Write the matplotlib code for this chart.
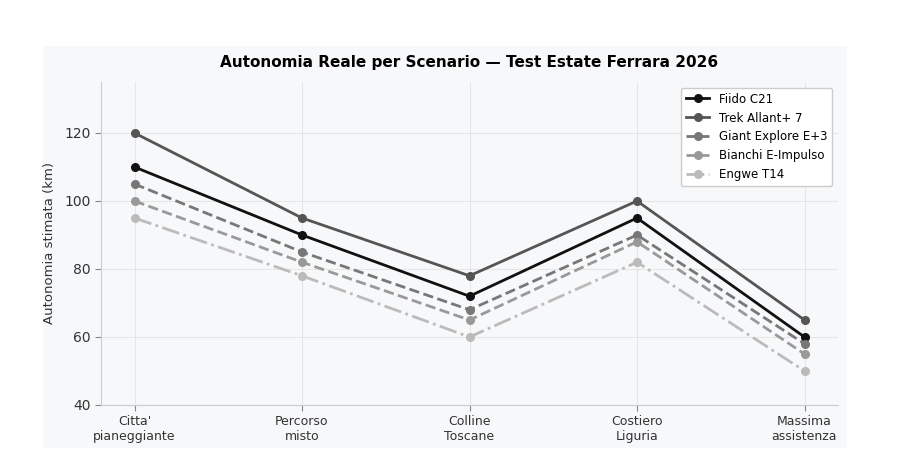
import matplotlib
matplotlib.use("Agg")
import matplotlib.pyplot as plt
from matplotlib.patches import Rectangle

# --- dati ---
scenari = ["Citta'\npianeggiante", "Percorso\nmisto", "Colline\nToscane",
           "Costiero\nLiguria", "Massima\nassistenza"]

fiido = [110, 90, 72, 95, 60]
trek = [120, 95, 78, 100, 65]
giant = [105, 85, 68, 90, 58]
bianchi = [100, 82, 65, 88, 55]
engwe = [95, 78, 60, 82, 50]

nomi = ["Fiido C21", "Trek Allant+ 7", "Giant Explore E+3", "Bianchi E-Impulso", "Engwe T14"]

bg = "#f7f8fa"
fig = plt.figure(figsize=(9, 4.59), dpi=100, facecolor="white")
# pannello grigio chiaro dietro al grafico
pannello = Rectangle((43 / 900, 1 - 448 / 459), (847 - 43) / 900, (448 - 46) / 459,
                     transform=fig.transFigure, facecolor=bg, edgecolor="none", zorder=-10)
fig.add_artist(pannello)

ax = fig.add_axes([101 / 900, 1 - 405 / 459, (838 - 101) / 900, (405 - 82) / 459])
ax.set_facecolor(bg)

x = list(range(len(scenari)))
stili = [
    (fiido, "#111111", "-"),
    (trek, "#555555", "-"),
    (giant, "#777777", "--"),
    (bianchi, "#999999", "--"),
    (engwe, "#bbbbbb", "-."),
]
for (valori, colore, ls), nome in zip(stili, nomi):
    ax.plot(x, valori, color=colore, linestyle=ls, linewidth=2, marker="o",
            markersize=5.5, label=nome)

ax.set_xlim(-0.2, 4.2)
ax.set_ylim(40, 135)
ax.set_yticks([40, 60, 80, 100, 120])
ax.set_xticks(x)
ax.set_xticklabels(scenari, fontsize=9, color="#333333")
ax.tick_params(axis="y", labelsize=10)
ax.tick_params(colors="#333333")
ax.tick_params(axis="both", color="#888888", length=4)

ax.grid(True, color="#e6e6e6", linewidth=0.8)
ax.set_axisbelow(True)
for s in ["top", "right"]:
    ax.spines[s].set_visible(False)
for s in ["left", "bottom"]:
    ax.spines[s].set_color("#cccccc")

ax.set_ylabel("Autonomia stimata (km)", fontsize=9.5, color="#333333", labelpad=6)
ax.set_title("Autonomia Reale per Scenario — Test Estate Ferrara 2026",
             fontsize=11, fontweight="bold", pad=11)

leg = ax.legend(loc="upper right", fontsize=8.5, frameon=True, facecolor="white",
                edgecolor="#cccccc", framealpha=1, labelspacing=0.5)

fig.savefig("out.png", dpi=100, facecolor="white")
